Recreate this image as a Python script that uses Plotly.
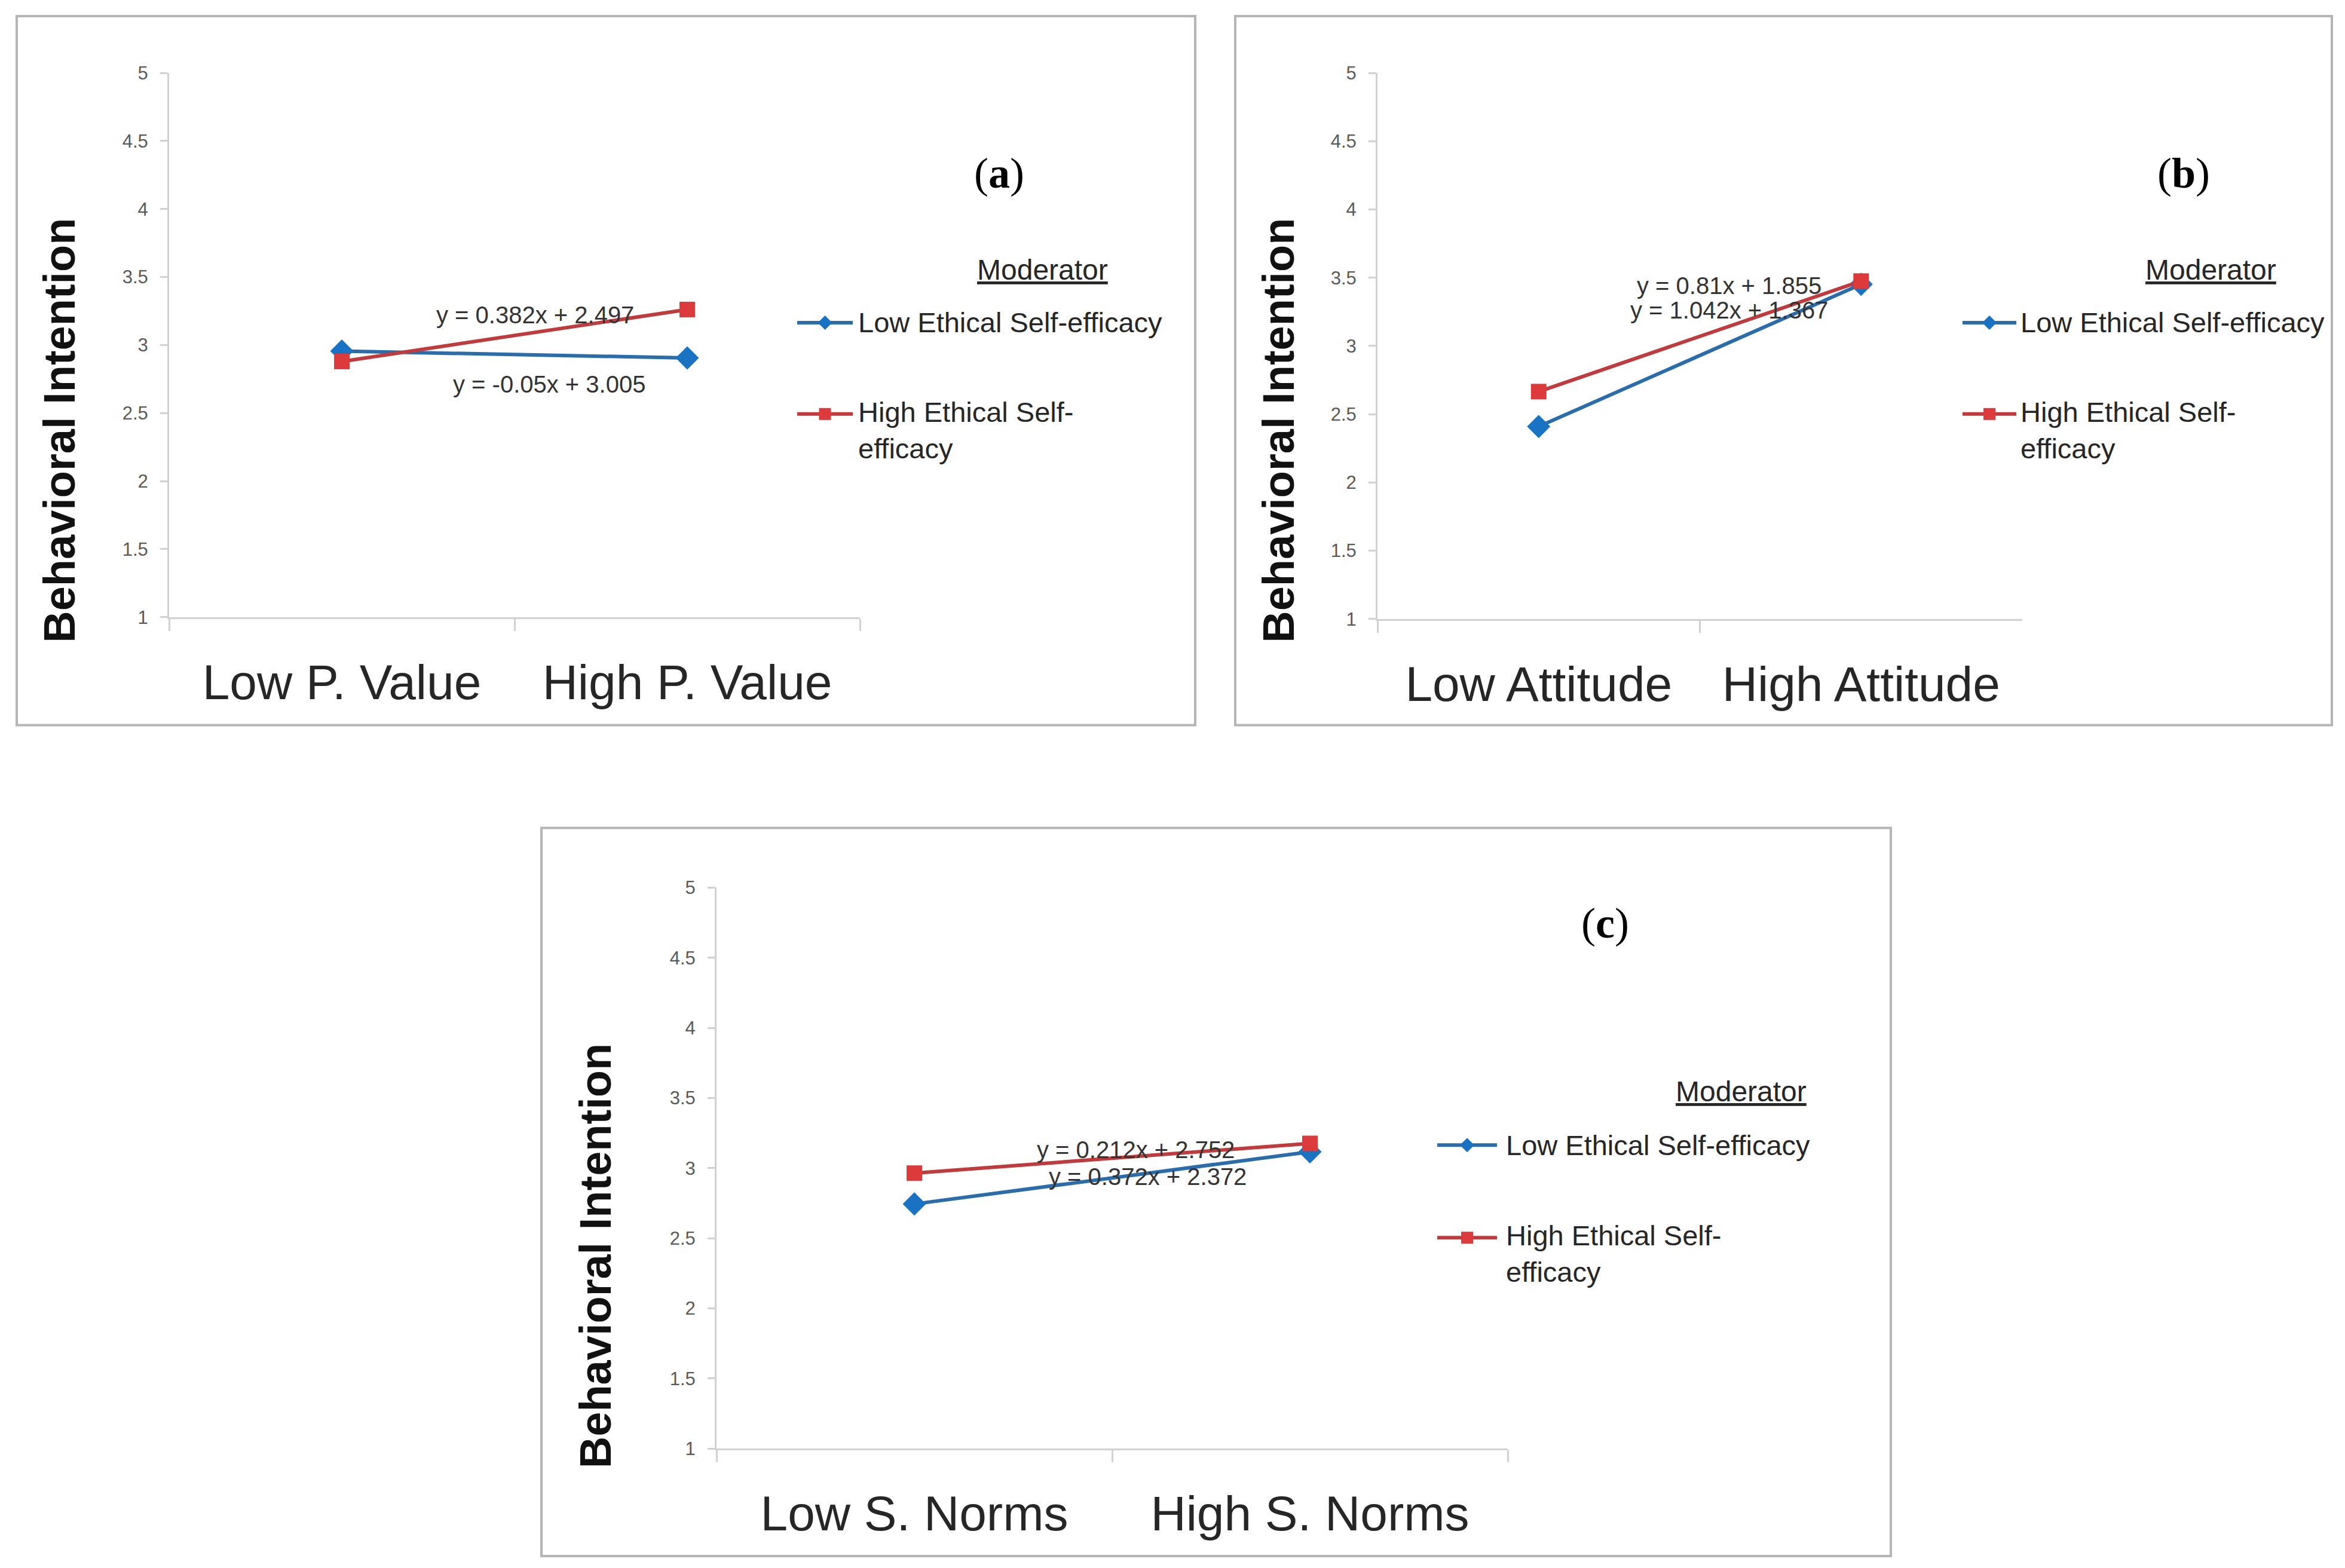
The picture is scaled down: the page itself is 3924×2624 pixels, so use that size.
import plotly.graph_objects as go
from plotly.subplots import make_subplots

W, H = 3924, 2624
PAD = 8  # default body margin of the html page
V_OFF, V_SCALE = 15, 0.987  # measured vertical drift of the screenshot

# categories on the x axis of each panel
cats_a = ["Low P. Value", "High P. Value"]
cats_b = ["Low Attitude", "High Attitude"]
cats_c = ["Low S. Norms", "High S. Norms"]

# behavioral intention
low_ese_a = [2.955, 2.905]
high_ese_a = [2.879, 3.261]
low_ese_b = [2.409, 3.451]
high_ese_b = [2.665, 3.475]
low_ese_c = [2.744, 3.116]
high_ese_c = [2.964, 3.176]

# trendline equations as printed
eq_low_a, eq_high_a = "y = -0.05x + 3.005", "y = 0.382x + 2.497"
eq_low_b, eq_high_b = "y = 1.042x + 1.367", "y = 0.81x + 1.855"
eq_low_c, eq_high_c = "y = 0.372x + 2.372", "y = 0.212x + 2.752"

series_names = ["Low Ethical Self-efficacy", "High Ethical Self-<br>efficacy"]
panel_tags = ["a", "b", "c"]

BLUE_LINE, BLUE_MARK = "#2b6cab", "#1a73c2"
RED_LINE, RED_MARK = "#bf3b3d", "#dc3a3b"
AXIS_GREY = "#d2d2d2"
FONT = "Liberation Sans, Arial, sans-serif"

FW, FH = W - 2 * PAD, H - 2 * PAD


def px(x):
    return (x - PAD) / FW


def py(y):
    y = (y - V_OFF) / V_SCALE
    return 1 - (y - PAD) / FH


# pixel geometry of each panel (layout only, no data)
panels = [
    dict(cats=cats_a, low=low_ese_a, high=high_ese_a, eqs=(eq_low_a, eq_high_a),
         xdom=(283, 1439), ydom=(120, 1031), frame=(28, 25, 2000, 1212),
         ytitle=(100, 719), tag=(1672, 288),
         eq_pos=((0.60, 2.71), (0.56, 3.22)),
         leg=dict(l0=1334, l1=1427, tx=1434, ty=450, tcx=1744, y1=538, y2=691)),
    dict(cats=cats_b, low=low_ese_b, high=high_ese_b, eqs=(eq_low_b, eq_high_b),
         xdom=(2305, 3384), ydom=(120, 1034), frame=(2067, 25, 3902, 1212),
         ytitle=(2140, 719), tag=(3654, 288),
         eq_pos=((0.59, 3.26), (0.59, 3.44)),
         leg=dict(l0=3284, l1=3374, tx=3379, ty=450, tcx=3699, y1=538, y2=691)),
    dict(cats=cats_c, low=low_ese_c, high=high_ese_c, eqs=(eq_low_c, eq_high_c),
         xdom=(1199, 2523), ydom=(1484, 2423), frame=(906, 1384, 3164, 2603),
         ytitle=(996, 2100), tag=(2686, 1544),
         eq_pos=((0.59, 2.94), (0.56, 3.13)),
         leg=dict(l0=2405, l1=2505, tx=2518, ty=1825, tcx=2913, y1=1915, y2=2070)),
]

fig = make_subplots(rows=1, cols=3)
shapes = []
annotations = []

for i, p in enumerate(panels):
    col = i + 1
    xr = "x" if i == 0 else "x%d" % col
    yr = "y" if i == 0 else "y%d" % col

    fig.add_trace(go.Scatter(x=p["cats"], y=p["low"], mode="lines+markers",
                             line=dict(color=BLUE_LINE, width=6),
                             marker=dict(symbol="diamond", size=30, color=BLUE_MARK),
                             showlegend=False), row=1, col=col)
    fig.add_trace(go.Scatter(x=p["cats"], y=p["high"], mode="lines+markers",
                             line=dict(color=RED_LINE, width=6),
                             marker=dict(symbol="square", size=26, color=RED_MARK),
                             showlegend=False), row=1, col=col)

    fig.update_xaxes(domain=[px(p["xdom"][0]), px(p["xdom"][1])], type="category",
                     range=[-0.5, 1.5], showline=True, linecolor=AXIS_GREY, linewidth=3,
                     ticks="outside", tickson="boundaries", ticklen=20, tickwidth=3,
                     tickcolor=AXIS_GREY, showgrid=False, zeroline=False,
                     tickfont=dict(family=FONT, size=82, color="#262626"),
                     ticklabelstandoff=36, row=1, col=col)
    fig.update_yaxes(domain=[py(p["ydom"][1]), py(p["ydom"][0])], range=[1, 5], dtick=0.5,
                     showline=True, linecolor=AXIS_GREY, linewidth=3, ticks="outside",
                     ticklen=12, tickwidth=3, tickcolor=AXIS_GREY, showgrid=False,
                     zeroline=False, tickfont=dict(family=FONT, size=31, color="#595959"),
                     ticklabelstandoff=14, row=1, col=col)

    # outer frame
    x0, y0, x1, y1 = p["frame"]
    shapes.append(dict(type="rect", xref="paper", yref="paper",
                       x0=px(x0), x1=px(x1), y0=py(y1), y1=py(y0),
                       line=dict(color="#b5b5b5", width=4)))

    # y axis title
    annotations.append(dict(text="<b>Behavioral Intention</b>", xref="paper", yref="paper",
                            x=px(p["ytitle"][0]), y=py(p["ytitle"][1]), textangle=-90,
                            xanchor="center", yanchor="middle", showarrow=False,
                            font=dict(family=FONT, size=74, color="#111111")))
    # panel tag
    annotations.append(dict(text="(<b>%s</b>)" % panel_tags[i], xref="paper", yref="paper",
                            x=px(p["tag"][0]), y=py(p["tag"][1]), showarrow=False,
                            xanchor="center", yanchor="middle",
                            font=dict(family="Liberation Serif, DejaVu Serif, serif",
                                      size=72, color="#000000")))
    # trendline equations
    for eq, (ex, ey) in zip(p["eqs"], p["eq_pos"]):
        annotations.append(dict(text=eq, xref=xr, yref=yr, x=ex, y=ey, showarrow=False,
                                xanchor="center", yanchor="middle",
                                font=dict(family=FONT, size=40, color="#333333")))

    # legend drawn by hand
    lg = p["leg"]
    annotations.append(dict(text="<u>Moderator</u>", xref="paper", yref="paper",
                            x=px(lg["tcx"]), y=py(lg["ty"]), showarrow=False,
                            xanchor="center", yanchor="middle",
                            font=dict(family=FONT, size=48, color="#262626")))
    for k, (yy, lc, mc) in enumerate([(lg["y1"], BLUE_LINE, BLUE_MARK),
                                      (lg["y2"], RED_LINE, RED_MARK)]):
        shapes.append(dict(type="line", xref="paper", yref="paper",
                           x0=px(lg["l0"]), x1=px(lg["l1"]), y0=py(yy), y1=py(yy),
                           line=dict(color=lc, width=6)))
        cx = (lg["l0"] + lg["l1"]) / 2
        s = 12
        if k == 0:
            path = "M %f %f L %f %f L %f %f L %f %f Z" % (
                px(cx), py(yy - s), px(cx + s), py(yy), px(cx), py(yy + s), px(cx - s), py(yy))
            shapes.append(dict(type="path", xref="paper", yref="paper", path=path,
                               fillcolor=mc, line=dict(width=0)))
        else:
            shapes.append(dict(type="rect", xref="paper", yref="paper",
                               x0=px(cx - 10), x1=px(cx + 10), y0=py(yy + 10), y1=py(yy - 10),
                               fillcolor=mc, line=dict(width=0)))
        if k == 0:
            annotations.append(dict(text=series_names[k], xref="paper", yref="paper",
                                    x=px(lg["tx"]), y=py(yy), xanchor="left", yanchor="middle",
                                    align="left", showarrow=False,
                                    font=dict(family=FONT, size=47, color="#262626")))
        else:
            annotations.append(dict(text=series_names[k], xref="paper", yref="paper",
                                    x=px(lg["tx"]), y=py(yy - 32), xanchor="left", yanchor="top",
                                    align="left", showarrow=False,
                                    font=dict(family=FONT, size=47, color="#262626")))

fig.update_layout(width=FW, height=FH, margin=dict(l=0, r=0, t=0, b=0),
                  paper_bgcolor="white", plot_bgcolor="white",
                  shapes=shapes, annotations=annotations, showlegend=False)

fig.write_html("out.html")
